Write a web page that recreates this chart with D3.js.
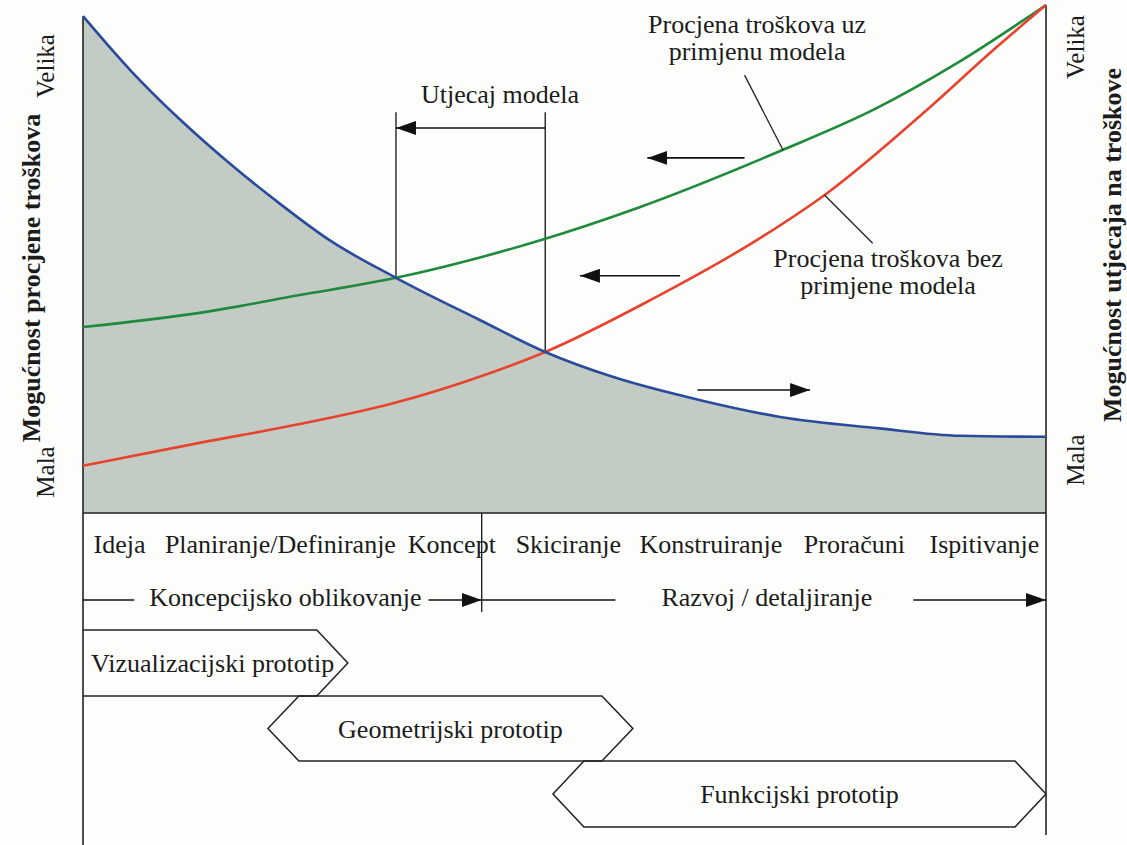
<!DOCTYPE html>
<html>
<head>
<meta charset="utf-8">
<script src="https://cdn.jsdelivr.net/npm/d3@7/dist/d3.min.js"></script>
<style>
  body { margin: 0; background: #fdfdfc; }
  text { font-family: "Liberation Serif", "Times New Roman", serif; fill: #1b1b1b; }
</style>
</head>
<body>
<div id="chart"></div>
<script>
// x runs over the design phases (0-100), y from "Mala" (0) to "Velika" (100)

// Mogućnost utjecaja na troškove (blue, filled)
var influenceX = [0, 4.9, 10.1, 15.3, 20.5, 25.6, 32.5, 41.2, 48.0, 55.0, 64.1, 72.4, 82.5, 91.1, 100];
var influenceY = [97.8, 87.2, 77.4, 68.7, 60.8, 53.7, 46.3, 38.0, 31.7, 26.8, 22.2, 18.9, 16.7, 15.2, 15.0];

// Procjena troškova uz primjenu modela (green)
var withModelX = [0, 12.1, 22.5, 32.5, 47.5, 57.8, 72.7, 82.0, 90.8, 100];
var withModelY = [36.6, 39.4, 42.9, 46.3, 53.7, 60.2, 71.5, 79.3, 88.6, 100];

// Procjena troškova bez primjene modela (red)
var noModelX = [0, 12.1, 22.5, 32.4, 40.2, 48.0, 58.9, 70.3, 77.3, 87.6, 94.5, 100];
var noModelY = [9.3, 13.8, 17.5, 21.7, 26.2, 31.7, 41.9, 54.1, 63.0, 79.3, 91.1, 100];

// phase labels and where they sit on the x axis
var phases = ["Ideja", "Planiranje/Definiranje", "Koncept", "Skiciranje", "Konstruiranje", "Proračuni", "Ispitivanje"];
var phaseX = [3.8, 20.5, 38.3, 50.4, 65.2, 80.1, 93.6];

// stages (from, to)
var stages = ["Koncepcijsko oblikovanje", "Razvoj / detaljiranje"];
var stageFrom = [0, 41.4];
var stageTo = [41.4, 100];

// prototypes (from, to)
var prototypes = ["Vizualizacijski prototip", "Geometrijski prototip", "Funkcijski prototip"];
var protoFrom = [0, 19.2, 48.8];
var protoTo = [27.5, 57.1, 100];

// "Utjecaj modela" bracket
var impactX = [32.5, 48.0];
var impactTop = 78.9;
var impactArrowY = 75.8;

// shift arrows: [x1, x2, y]
var shiftArrows = [[68.7, 58.6, 69.9], [62.0, 51.6, 46.7], [63.8, 75.5, 24.2]];

var axisLabels = { left: "Mogućnost procjene troškova", right: "Mogućnost utjecaja na troškove", high: "Velika", low: "Mala" };

(function() {
  var width = 1127, height = 845;
  var left = 83, right = 1046, top = 5, base = 513;
  var fontSize = 26;

  var svg = d3.select("#chart")
    .append("svg")
    .attr("width", width)
    .attr("height", height);

  var defs = svg.append("defs");
  defs.append("marker")
    .attr("id", "head")
    .attr("viewBox", "0 0 20 14")
    .attr("refX", 20)
    .attr("refY", 7)
    .attr("markerWidth", 20)
    .attr("markerHeight", 14)
    .attr("markerUnits", "userSpaceOnUse")
    .attr("orient", "auto")
    .append("path")
    .attr("d", "M0,0 L20,7 L0,14 Z")
    .attr("fill", "#111");

  var xPositionScale = d3.scaleLinear().domain([0, 100]).range([left, right]);
  var yPositionScale = d3.scaleLinear().domain([0, 100]).range([base, top]);

  function zipped(xs, ys) {
    return xs.map(function(x, i) { return { x: x, y: ys[i] }; });
  }
  var influence = zipped(influenceX, influenceY);
  var withModel = zipped(withModelX, withModelY);
  var noModel = zipped(noModelX, noModelY);

  var line = d3.line().curve(d3.curveMonotoneX)
    .x(function(d) { return xPositionScale(d.x); })
    .y(function(d) { return yPositionScale(d.y); });

  var area = d3.area().curve(d3.curveMonotoneX)
    .x(function(d) { return xPositionScale(d.x); })
    .y0(base)
    .y1(function(d) { return yPositionScale(d.y); });

  svg.append("path")
    .datum(influence)
    .attr("d", area)
    .attr("fill", "#c3ccc4");

  // frame
  svg.append("line")
    .attr("x1", left).attr("x2", right)
    .attr("y1", base).attr("y2", base)
    .attr("stroke", "#222").attr("stroke-width", 1.6);
  svg.append("line")
    .attr("x1", left).attr("x2", left)
    .attr("y1", yPositionScale(influenceY[0])).attr("y2", height)
    .attr("stroke", "#222").attr("stroke-width", 1.6);
  svg.append("line")
    .attr("x1", right).attr("x2", right)
    .attr("y1", top).attr("y2", 835)
    .attr("stroke", "#222").attr("stroke-width", 1.6);

  // bracket
  impactX.forEach(function(x) {
    var i = influenceX.indexOf(x);
    svg.append("line")
      .attr("x1", xPositionScale(x)).attr("x2", xPositionScale(x))
      .attr("y1", yPositionScale(impactTop)).attr("y2", yPositionScale(influenceY[i]))
      .attr("stroke", "#222").attr("stroke-width", 1.4);
  });
  svg.append("line")
    .attr("x1", xPositionScale(impactX[1])).attr("x2", xPositionScale(impactX[0]))
    .attr("y1", yPositionScale(impactArrowY)).attr("y2", yPositionScale(impactArrowY))
    .attr("stroke", "#111").attr("stroke-width", 1.6)
    .attr("marker-end", "url(#head)");
  svg.append("text")
    .attr("x", xPositionScale(impactX[0]) + 25)
    .attr("y", yPositionScale(impactTop) - 9)
    .attr("font-size", fontSize)
    .text("Utjecaj modela");

  // curves
  svg.append("path").datum(withModel).attr("d", line)
    .attr("fill", "none").attr("stroke", "#1f8a3c").attr("stroke-width", 2.6);
  svg.append("path").datum(noModel).attr("d", line)
    .attr("fill", "none").attr("stroke", "#e8432e").attr("stroke-width", 2.6);
  svg.append("path").datum(influence).attr("d", line)
    .attr("fill", "none").attr("stroke", "#2a4a9c").attr("stroke-width", 2.6);

  svg.selectAll(".shift")
    .data(shiftArrows)
    .enter().append("line")
    .attr("class", "shift")
    .attr("x1", function(d) { return xPositionScale(d[0]); })
    .attr("x2", function(d) { return xPositionScale(d[1]); })
    .attr("y1", function(d) { return yPositionScale(d[2]); })
    .attr("y2", function(d) { return yPositionScale(d[2]); })
    .attr("stroke", "#111").attr("stroke-width", 1.6)
    .attr("marker-end", "url(#head)");

  // curve labels with leaders
  function label(lines, cx, cy, fromPt, toPt) {
    lines.forEach(function(t, i) {
      svg.append("text")
        .attr("x", xPositionScale(cx))
        .attr("y", yPositionScale(cy) + i * 27)
        .attr("text-anchor", "middle")
        .attr("font-size", fontSize)
        .text(t);
    });
    svg.append("line")
      .attr("x1", xPositionScale(fromPt[0])).attr("y1", yPositionScale(fromPt[1]))
      .attr("x2", xPositionScale(toPt[0])).attr("y2", yPositionScale(toPt[1]))
      .attr("stroke", "#222").attr("stroke-width", 1.3);
  }
  label(["Procjena troškova uz", "primjenu modela"], 70.0, 94.5, [68.7, 86.2], [72.7, 71.4]);
  label(["Procjena troškova bez", "primjene modela"], 83.6, 48.4, [77.0, 62.6], [82.0, 53.1]);

  // side labels
  function vtext(x, y, t, size, bold) {
    svg.append("text")
      .attr("transform", "translate(" + x + "," + y + ") rotate(-90)")
      .attr("text-anchor", "middle")
      .attr("font-size", size)
      .attr("font-weight", bold ? "bold" : "normal")
      .text(t);
  }
  vtext(40, 278, axisLabels.left, 26, true);
  vtext(54, 66, axisLabels.high, 25, false);
  vtext(54, 472, axisLabels.low, 25, false);
  vtext(1084, 47, axisLabels.high, 25, false);
  vtext(1084, 460, axisLabels.low, 25, false);
  vtext(1121, 245, axisLabels.right, 26, true);

  // phases
  svg.selectAll(".phase")
    .data(phases)
    .enter().append("text")
    .attr("class", "phase")
    .attr("x", function(d, i) { return xPositionScale(phaseX[i]); })
    .attr("y", 553)
    .attr("text-anchor", "middle")
    .attr("font-size", fontSize)
    .text(function(d) { return d; });

  svg.append("line")
    .attr("x1", xPositionScale(stageTo[0])).attr("x2", xPositionScale(stageTo[0]))
    .attr("y1", base).attr("y2", 612)
    .attr("stroke", "#222").attr("stroke-width", 1.4);

  // stages
  var stageGap = [[15, 7], [46, 41]];
  var stageY = 600;
  stages.forEach(function(s, i) {
    var x0 = xPositionScale(stageFrom[i]), x1 = xPositionScale(stageTo[i]);
    var tx = (x0 + x1) / 2 + 3;
    var t = svg.append("text")
      .attr("x", tx)
      .attr("y", stageY + 6)
      .attr("text-anchor", "middle")
      .attr("font-size", fontSize)
      .text(s);
    var w = t.node().getComputedTextLength();
    svg.append("line")
      .attr("x1", x0).attr("x2", tx - w / 2 - stageGap[i][0])
      .attr("y1", stageY).attr("y2", stageY)
      .attr("stroke", "#111").attr("stroke-width", 1.6);
    svg.append("line")
      .attr("x1", tx + w / 2 + stageGap[i][1]).attr("x2", x1)
      .attr("y1", stageY).attr("y2", stageY)
      .attr("stroke", "#111").attr("stroke-width", 1.6)
      .attr("marker-end", "url(#head)");
  });

  // prototypes
  var rowTop = [630, 696, 761];
  var rowBottom = [696, 761, 827];
  var notch = 31;
  prototypes.forEach(function(p, i) {
    var x0 = xPositionScale(protoFrom[i]), x1 = xPositionScale(protoTo[i]);
    var y0 = rowTop[i], y1 = rowBottom[i], ym = (y0 + y1) / 2;
    var pts;
    if (protoFrom[i] === 0) {
      pts = [[x0, y0], [x1 - notch, y0], [x1, ym], [x1 - notch, y1], [x0, y1]];
    } else {
      pts = [[x0, ym], [x0 + notch, y0], [x1 - notch, y0], [x1, ym], [x1 - notch, y1], [x0 + notch, y1]];
    }
    svg.append("path")
      .attr("d", d3.line()(pts) + (protoFrom[i] === 0 ? "" : "Z"))
      .attr("fill", "none")
      .attr("stroke", "#222")
      .attr("stroke-width", 1.5);
    svg.append("text")
      .attr("x", protoFrom[i] === 0 ? x0 + 8 : (x0 + x1) / 2)
      .attr("y", ym + 9)
      .attr("text-anchor", protoFrom[i] === 0 ? "start" : "middle")
      .attr("font-size", fontSize)
      .text(p);
  });
})();
</script>
</body>
</html>
